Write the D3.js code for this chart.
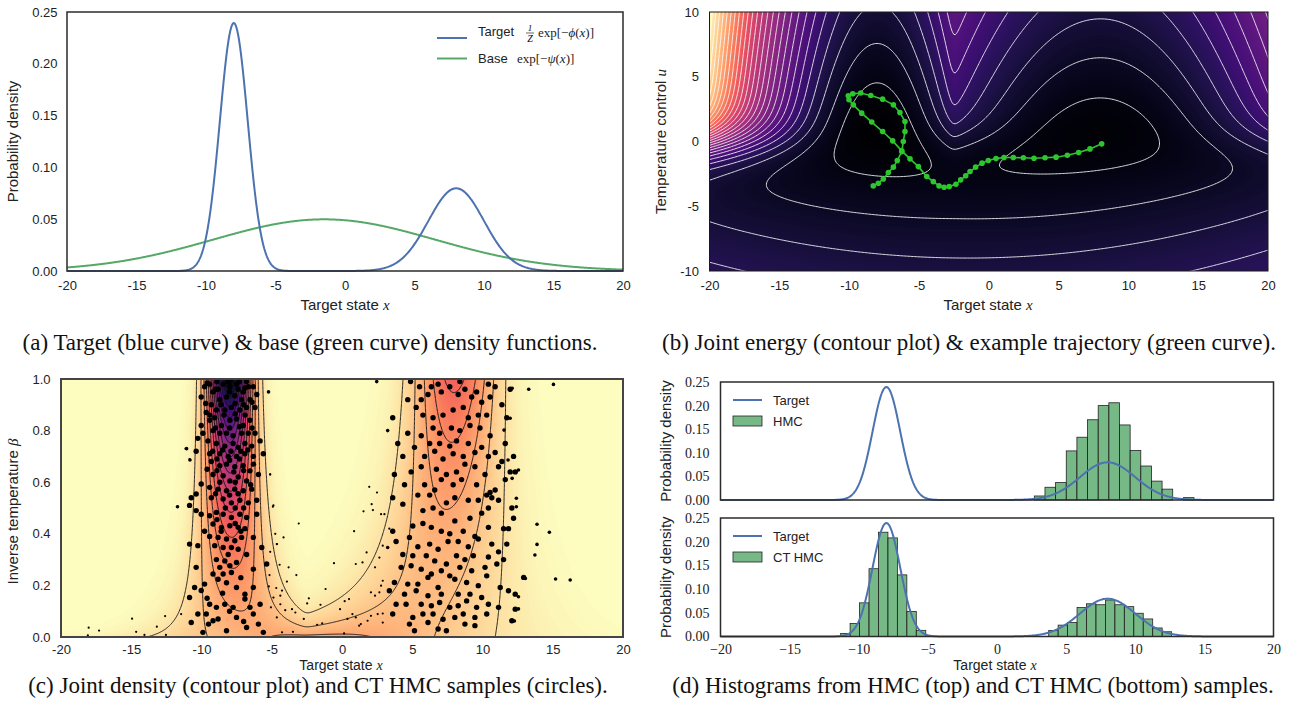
<!DOCTYPE html>
<html>
<head>
<meta charset="utf-8">
<script src="https://cdn.jsdelivr.net/npm/d3@7"></script>
<style>
  body { margin: 0; background: #fff; }
  .tick-sans { font-family: "Liberation Sans Narrow", "Liberation Sans", Arial, sans-serif; font-size: 13px; fill: #222; }
  .tick-serif { font-family: "Liberation Serif", "Times New Roman", serif; font-size: 14px; fill: #222; }
  .label { font-family: "Liberation Sans", Arial, sans-serif; font-size: 15px; fill: #222; }
  .label-sm { font-family: "Liberation Sans", Arial, sans-serif; font-size: 14px; fill: #222; }
  .math { font-family: "Liberation Serif", "Times New Roman", serif; font-style: italic; }
  .caption { font-family: "Liberation Serif", "Times New Roman", serif; font-size: 23px; fill: #111; }
  .legend { font-family: "Liberation Sans", Arial, sans-serif; font-size: 13px; fill: #222; }
</style>
</head>
<body>
<svg id="fig" width="1293" height="722"></svg>
<script>
// ---- values ----
var xTicks = [-20, -15, -10, -5, 0, 5, 10, 15, 20];
var densityTicks = [0, 0.05, 0.10, 0.15, 0.20, 0.25];
var uTicks = [-10, -5, 0, 5, 10];
var betaTicks = [0, 0.2, 0.4, 0.6, 0.8, 1.0];

// target = mixture of two gaussians (mode, width, weight), base = one wide gaussian
var targetMeans = [-8, 8];
var targetSds = [1, 2];
var targetWeights = [0.6, 0.4];
var baseMean = [-1.5];
var baseSd = [8];

// contour levels
var energyLevels = [6, 9, 12, 15, 18, 21, 24, 27, 30, 33, 36, 39, 42, 45, 48, 51, 54, 57, 60, 63, 66, 69, 72, 75, 78, 81];
var densityLevels = [0.015, 0.03, 0.045, 0.06, 0.075, 0.09, 0.105, 0.12, 0.135, 0.15, 0.165, 0.18, 0.195, 0.21, 0.225];

// example trajectory in (x, u)
var trajX = [8.09, 7.25, 6.44, 5.63, 4.82, 4.03, 3.24, 2.48, 1.76, 1.09, 0.52, -0.03, -0.48, -0.94, -1.34, -1.65, -2.01, -2.35, -2.83, -3.2, -3.56, -3.97, -4.44, -5.04, -5.64, -6.23, -6.88, -7.6, -8.38, -9.1, -9.7, -10.01, -10.06, -9.74, -9.17, -8.45, -7.6, -6.83, -6.36, -6.0, -6.0, -6.12, -6.23, -6.55, -6.83, -7.19, -7.55, -7.91, -8.27];
var trajU = [-0.18, -0.57, -0.85, -1.06, -1.21, -1.26, -1.29, -1.26, -1.24, -1.24, -1.32, -1.47, -1.67, -1.98, -2.32, -2.65, -2.96, -3.3, -3.48, -3.53, -3.43, -3.1, -2.71, -1.94, -1.34, -0.72, 0.05, 0.77, 1.5, 2.19, 2.83, 3.22, 3.53, 3.68, 3.74, 3.55, 3.27, 2.83, 2.24, 1.54, 0.77, 0.0, -0.78, -1.47, -1.98, -2.4, -2.89, -3.22, -3.43];

// CT HMC samples in (x, beta)
var leftSamples = [[-10.02,0.93],[-9.78,0.97],[-9.42,0.98],[-9.18,0.95],[-8.82,0.96],[-8.46,0.98],[-7.98,0.97],[-7.51,0.98],[-7.03,0.95],[-6.67,0.97],[-6.31,0.97],[-6.07,0.94],[-9.3,0.90],[-8.7,0.92],[-8.22,0.93],[-7.63,0.935],[-7.15,0.92],[-6.55,0.92],[-8.94,0.88],[-8.34,0.88],[-7.87,0.89],[-7.27,0.88],[-6.79,0.89],[-6.19,0.89],[-9.66,0.87],[-10.02,0.82],[-10.26,0.77],[-9.42,0.84],[-9.06,0.85],[-8.58,0.82],[-7.98,0.84],[-7.51,0.845],[-7.03,0.82],[-6.55,0.84],[-9.18,0.80],[-8.7,0.79],[-8.22,0.79],[-7.75,0.78],[-7.15,0.79],[-6.67,0.79],[-6.19,0.79],[-9.54,0.76],[-8.94,0.75],[-8.34,0.74],[-7.75,0.75],[-7.39,0.735],[-6.91,0.75],[-6.43,0.74],[-5.83,0.76],[-10.38,0.72],[-9.42,0.71],[-8.7,0.71],[-8.1,0.70],[-7.51,0.70],[-6.91,0.71],[-6.31,0.70],[-5.6,0.71],[-9.3,0.68],[-8.7,0.664],[-8.22,0.67],[-7.63,0.66],[-7.03,0.664],[-6.55,0.644],[-5.95,0.63],[-9.18,0.63],[-8.46,0.625],[-7.98,0.605],[-7.39,0.62],[-6.79,0.605],[-10.02,0.593],[-9.42,0.58],[-8.82,0.573],[-8.22,0.567],[-7.63,0.573],[-7.03,0.567],[-6.43,0.573],[-9.3,0.54],[-8.46,0.535],[-7.87,0.52],[-7.27,0.53],[-6.67,0.52],[-6.07,0.53],[-10.38,0.554],[-10.73,0.54],[-10.85,0.51],[-10.38,0.49],[-10.02,0.476],[-9.42,0.47],[-8.94,0.483],[-8.46,0.476],[-7.87,0.463],[-7.27,0.476],[-6.79,0.463],[-6.07,0.476],[-9.18,0.438],[-8.58,0.425],[-7.98,0.431],[-7.39,0.425],[-6.91,0.42],[-9.78,0.41],[-9.42,0.39],[-8.82,0.386],[-8.22,0.38],[-7.63,0.373],[-7.15,0.386],[-6.31,0.386],[-10.26,0.354],[-9.06,0.354],[-8.46,0.347],[-7.87,0.347],[-7.39,0.34],[-6.79,0.32],[-5.71,0.347],[-10.85,0.36],[-8.94,0.30],[-8.34,0.295],[-7.98,0.276],[-7.51,0.289],[-10.38,0.27],[-9.18,0.244],[-8.46,0.244],[-7.87,0.25],[-6.31,0.263],[-5.36,0.283],[-9.78,0.205],[-8.82,0.224],[-8.22,0.21],[-7.51,0.192],[-6.91,0.166],[-6.31,0.192],[-10.49,0.192],[-10.02,0.18],[-10.85,0.153],[-9.42,0.127],[-8.94,0.115],[-8.34,0.127],[-7.75,0.115],[-6.91,0.147],[-6.55,0.115],[-5.83,0.127],[-10.26,0.089],[-10.73,0.056],[-9.66,0.089],[-9.18,0.063],[-8.82,0.07],[-8.22,0.024],[-7.51,0.076],[-6.79,0.037],[-6.31,0.089],[-5.95,0.05],[-5.6,0.018],[-9.9,0.018],
  [-9.6,0.985],[-8.9,0.99],[-8.1,0.99],[-7.3,0.99],[-6.8,0.99],[-9.0,0.96],[-8.0,0.95],[-7.4,0.96],[-6.9,0.965],[-9.7,0.905],[-8.6,0.90],[-7.6,0.905],[-7.0,0.9],[-6.4,0.91],[-9.4,0.86],[-8.4,0.86],[-7.6,0.865],[-6.9,0.86],[-9.0,0.81],[-8.0,0.81],[-7.3,0.815],[-6.4,0.81],[-9.9,0.79],[-9.2,0.72],[-8.5,0.725],[-7.9,0.72],[-7.2,0.72],[-6.7,0.725],[-8.9,0.69],[-8.0,0.685],[-7.3,0.69],[-6.3,0.67],[-9.6,0.65],[-8.9,0.645],[-7.7,0.64],[-7.0,0.645],[-8.7,0.60],[-7.6,0.60],[-6.5,0.59],[-9.0,0.555],[-8.0,0.55],[-7.4,0.555],[-8.3,0.50],[-7.6,0.50],[-7.0,0.50],[-8.9,0.455],[-7.6,0.44],[-8.6,0.41],[-7.2,0.41],[-8.1,0.32],[-8.7,0.27],[-8.5,0.17],[-7.2,0.23],[-9.6,0.15],[-8.0,0.1],[-9.5,0.05],[-7.0,0.06]];

var rightSamples = [[4.88,0.99],[5.52,0.97],[6.36,0.97],[6.84,0.98],[7.67,0.97],[8.39,0.99],[8.75,0.96],[9.58,0.95],[10.42,0.98],[10.9,0.97],[11.97,0.96],[4.68,0.92],[5.64,0.92],[6.12,0.94],[7.07,0.95],[8.27,0.94],[9.23,0.93],[9.94,0.91],[10.54,0.93],[11.38,0.90],[3.61,0.85],[5.28,0.89],[5.76,0.86],[6.48,0.85],[7.19,0.86],[7.91,0.88],[8.63,0.89],[8.99,0.85],[9.7,0.86],[10.3,0.86],[11.73,0.85],[4.68,0.79],[5.64,0.78],[6.48,0.81],[6.95,0.79],[7.79,0.81],[8.39,0.80],[9.11,0.82],[9.82,0.81],[10.54,0.78],[3.97,0.75],[5.16,0.735],[6.24,0.75],[6.95,0.75],[7.67,0.74],[8.15,0.76],[8.99,0.75],[9.94,0.735],[10.9,0.715],[11.62,0.75],[4.33,0.70],[5.88,0.70],[6.6,0.72],[7.19,0.69],[7.91,0.71],[8.63,0.70],[9.46,0.715],[10.42,0.70],[11.38,0.68],[12.21,0.70],[3.73,0.63],[4.92,0.64],[5.64,0.66],[6.72,0.65],[7.43,0.63],[8.15,0.64],[8.75,0.67],[9.46,0.66],[10.18,0.63],[11.14,0.66],[11.97,0.64],[12.33,0.64],[4.45,0.59],[5.88,0.59],[6.6,0.57],[7.07,0.61],[7.91,0.59],[8.51,0.61],[9.58,0.59],[10.54,0.56],[10.9,0.57],[11.62,0.61],[3.61,0.54],[5.4,0.55],[6.24,0.55],[7.43,0.52],[8.03,0.54],[8.99,0.53],[9.7,0.53],[10.3,0.55],[10.66,0.54],[11.14,0.53],[12.09,0.50],[4.33,0.515],[5.76,0.49],[6.48,0.50],[7.07,0.48],[8.03,0.45],[9.11,0.46],[9.94,0.48],[10.42,0.50],[11.5,0.42],[12.21,0.46],[3.61,0.41],[5.04,0.43],[5.76,0.44],[6.36,0.425],[7.07,0.41],[7.67,0.40],[8.63,0.41],[9.46,0.39],[10.42,0.425],[11.85,0.42],[3.85,0.37],[4.8,0.386],[5.4,0.35],[6.24,0.36],[6.84,0.34],[7.55,0.37],[8.27,0.37],[8.99,0.35],[9.7,0.38],[10.66,0.36],[11.14,0.33],[11.73,0.36],[4.33,0.32],[5.04,0.315],[6.0,0.315],[6.6,0.295],[7.43,0.283],[8.15,0.315],[8.75,0.30],[9.35,0.315],[10.42,0.31],[11.5,0.30],[4.21,0.27],[4.92,0.276],[5.64,0.263],[6.36,0.244],[7.07,0.257],[7.67,0.237],[8.39,0.27],[9.23,0.257],[10.18,0.27],[11.02,0.283],[12.93,0.231],[3.73,0.211],[4.68,0.205],[5.4,0.205],[6.12,0.231],[6.84,0.192],[8.03,0.224],[8.87,0.211],[9.7,0.199],[10.3,0.237],[11.26,0.192],[11.85,0.179],[3.37,0.179],[4.45,0.166],[5.28,0.179],[6.12,0.16],[7.07,0.166],[8.27,0.166],[9.11,0.166],[9.94,0.153],[12.33,0.166],[3.85,0.127],[4.56,0.127],[5.64,0.127],[6.36,0.121],[6.95,0.134],[7.67,0.115],[8.27,0.121],[8.87,0.14],[9.58,0.115],[10.42,0.127],[11.14,0.115],[12.33,0.108],[3.61,0.089],[5.04,0.076],[5.76,0.089],[6.48,0.089],[7.19,0.069],[8.03,0.076],[8.63,0.089],[9.46,0.076],[10.3,0.089],[12.09,0.063],[4.8,0.05],[6.12,0.056],[6.84,0.031],[7.43,0.024],[8.75,0.05],[9.46,0.044],[5.16,0.024]];

var fringeSamples = [[-5.23,0.95],[2.47,0.99],[3.25,0.80],[3.25,0.347],[12.11,0.964],[13.29,0.96],[15.05,0.979],[13.88,0.437],[14.76,0.406],[13.88,0.359],[13.73,0.318],[15.2,0.225],[16.24,0.221],[13.05,0.227],[12.56,0.156],[12.56,0.109],[12.27,0.062],[12.56,0.647],[12.41,0.538],[12.41,0.505],[12.11,0.615],[11.97,0.848],[11.82,0.686],[11.53,0.802],[-11.06,0.73],[-10.82,0.686],[-11.71,0.505]];

var sparseSamples = [[-5.11,0.63],[-4.92,0.505],[-3.08,0.44],[-4.16,0.386],[-4.75,0.40],[-4.63,0.36],[-5.11,0.33],[-4.44,0.28],[-3.8,0.27],[-3.25,0.24],[-3.92,0.215],[-5.16,0.24],[-5.21,0.196],[-4.68,0.19],[-4.27,0.18],[-4.39,0.16],[-5.06,0.115],[-4.39,0.127],[-4.04,0.104],[-3.56,0.108],[-3.32,0.095],[-2.72,0.07],[-2.36,0.15],[-2.48,0.13],[-1.17,0.186],[-1.53,0.125],[-0.57,0.286],[-1.77,0.047],[-1.41,0.053],[-0.14,0.108],[0.19,0.139],[0.5,0.147],[0.39,0.07],[0.74,0.089],[0.98,0.076],[1.34,0.05],[1.82,0.063],[2.06,0.082],[2.54,0.089],[2.9,0.091],[2.9,0.056],[1.22,0.044],[0.15,0.014],[-3.49,0.02],[-4.27,0.018],[0.98,0.283],[1.46,0.289],[1.75,0.328],[2.35,0.27],[2.66,0.308],[2.78,0.199],[2.9,0.218],[2.66,0.173],[2.35,0.16],[2.06,0.173],[0.86,0.41],[1.53,0.487],[1.94,0.582],[2.11,0.515],[2.2,0.492],[2.49,0.56],[2.78,0.476],[3.02,0.476],[3.37,0.42],[2.9,0.354],[-18.03,0.036],[-17.29,0.025],[-18.09,0.006],[-14.94,0.071],[-14.65,0.02],[-14.06,0.008],[-12.59,0.081],[-13.18,0.04],[-12.53,0.008],[-11.14,0.73],[-10.85,0.69],[-11.69,0.505],[-11.45,0.089],[-5.12,0.63],[-4.88,0.51],[-4.64,0.36],[-4.88,0.153],[-4.64,0.076]];

// histograms: first bin edge, bin width, bar heights
var hmcBinStart = 2.70, hmcBinWidth = 0.77;
var hmcHeights = [0.0085, 0.027, 0.037, 0.104, 0.133, 0.170, 0.200, 0.206, 0.159, 0.105, 0.072, 0.040, 0.023, 0, 0.005];
var ctBinStart = -11.31, ctBinWidth = 0.684;
var ctHeights = [0.0064, 0.0275, 0.071, 0.143, 0.220, 0.208, 0.130, 0.053, 0.013,
  0, 0, 0, 0, 0, 0, 0, 0, 0, 0, 0, 0, 0,
  0.0127, 0.024, 0.0297, 0.061, 0.069, 0.067, 0.077, 0.067, 0.063, 0.049, 0.037, 0.018, 0.010];

var blue = "#4c72b0", green = "#55a868", trajGreen = "#2dc62d";

var svg = d3.select("#fig");
var defs = svg.append("defs");

// densities and energies
function normal(x, m, s) {
  return Math.exp(-0.5 * ((x - m) / s) * ((x - m) / s)) / (s * Math.sqrt(2 * Math.PI));
}
function target(x) {
  return d3.sum(targetMeans, function(m, i) { return targetWeights[i] * normal(x, m, targetSds[i]); });
}
function base(x) { return normal(x, baseMean[0], baseSd[0]); }
function phi(x) { return -Math.log(target(x)); }
function psi(x) { return -Math.log(base(x)); }
function softplus(v) { return Math.max(v, 0) + Math.log(1 + Math.exp(-Math.abs(v))); }

function jointEnergy(x, u) {
  var b = 1 / (1 + Math.exp(-u));
  return b * phi(x) + (1 - b) * psi(x) + softplus(u) + softplus(-u);
}
function jointDensity(x, beta) {
  var b = Math.max(0, Math.min(1, beta));
  return Math.exp(-b * phi(x) - (1 - b) * psi(x));
}

// panel boxes (pixels)
var pa = { x0: 67, x1: 623, y0: 12, y1: 271, id: "a" };
var pb = { x0: 709.5, x1: 1268, y0: 12, y1: 271, id: "b" };
var pc = { x0: 61, x1: 623, y0: 379, y1: 637, id: "c" };
var pd1 = { x0: 720.5, x1: 1273.5, y0: 382, y1: 500, id: "d1" };
var pd2 = { x0: 720.5, x1: 1273.5, y0: 518, y1: 636.5, id: "d2" };

function scales(p, xd, yd) {
  return {
    x: d3.scaleLinear().domain(xd).range([p.x0, p.x1]),
    y: d3.scaleLinear().domain(yd).range([p.y1, p.y0])
  };
}

function clipFor(p) {
  defs.append("clipPath").attr("id", "clip-" + p.id)
    .append("rect").attr("x", p.x0).attr("y", p.y0)
    .attr("width", p.x1 - p.x0).attr("height", p.y1 - p.y0);
  return "url(#clip-" + p.id + ")";
}

function frame(p, color, w) {
  svg.append("rect").attr("x", p.x0).attr("y", p.y0)
    .attr("width", p.x1 - p.x0).attr("height", p.y1 - p.y0)
    .attr("fill", "none").attr("stroke", color).attr("stroke-width", w);
}

function plainFmt(d) { return String(d); }

function xAxis(p, sc, ticks, fmt, pad, cls) {
  svg.append("g").attr("transform", "translate(0," + p.y1 + ")")
    .call(d3.axisBottom(sc.x).tickValues(ticks).tickSize(0).tickPadding(pad).tickFormat(fmt))
    .call(function(g) { g.select(".domain").remove(); })
    .selectAll("text").attr("class", cls);
}
function yAxis(p, sc, ticks, fmt, pad, cls) {
  svg.append("g").attr("transform", "translate(" + p.x0 + ",0)")
    .call(d3.axisLeft(sc.y).tickValues(ticks).tickSize(0).tickPadding(pad).tickFormat(fmt))
    .call(function(g) { g.select(".domain").remove(); })
    .selectAll("text").attr("class", cls);
}

// x label "Target state x"
function xLabel(cx, y, cls) {
  var t = svg.append("text").attr("class", cls || "label").attr("x", cx).attr("y", y).attr("text-anchor", "middle");
  t.append("tspan").text("Target state ");
  t.append("tspan").attr("class", "math").text("x");
}
function yLabel(x, cy, txt, mathTxt) {
  var t = svg.append("text").attr("class", "label")
    .attr("transform", "translate(" + x + "," + cy + ") rotate(-90)")
    .attr("text-anchor", "middle");
  t.append("tspan").text(txt);
  if (mathTxt) t.append("tspan").attr("class", "math").text(mathTxt);
}

// raster heat map from a field
function heatImage(p, sc, fn, color, clip) {
  var w = Math.round(p.x1 - p.x0), h = Math.round(p.y1 - p.y0);
  var canvas = document.createElement("canvas");
  canvas.width = w; canvas.height = h;
  var ctx = canvas.getContext("2d");
  var img = ctx.createImageData(w, h);
  for (var j = 0; j < h; j++) {
    var yv = sc.y.invert(p.y0 + j + 0.5);
    for (var i = 0; i < w; i++) {
      var c = d3.rgb(color(fn(sc.x.invert(p.x0 + i + 0.5), yv)));
      var k = 4 * (j * w + i);
      img.data[k] = c.r; img.data[k + 1] = c.g; img.data[k + 2] = c.b; img.data[k + 3] = 255;
    }
  }
  ctx.putImageData(img, 0, 0);
  svg.append("image").attr("x", p.x0).attr("y", p.y0)
    .attr("width", w).attr("height", h)
    .attr("preserveAspectRatio", "none")
    .attr("clip-path", clip)
    .attr("href", canvas.toDataURL());
}

// contour lines over a grid a bit larger than the plot, clipped
function contourLines(sc, fn, xr, yr, nx, ny, levels, stroke, width, opacity, clip) {
  var dx = (xr[1] - xr[0]) / (nx - 1), dy = (yr[1] - yr[0]) / (ny - 1);
  var values = new Float64Array(nx * ny);
  for (var j = 0; j < ny; j++)
    for (var i = 0; i < nx; i++)
      values[j * nx + i] = fn(xr[0] + i * dx, yr[0] + j * dy);
  var cs = d3.contours().size([nx, ny]).thresholds(levels)(values);
  var path = d3.geoPath();
  svg.append("g").attr("clip-path", clip)
    .selectAll("path")
    .data(cs)
    .join("path")
      .attr("d", function(c) {
        return path({
          type: "MultiPolygon",
          coordinates: c.coordinates.map(function(poly) {
            return poly.map(function(ring) {
              return ring.map(function(pt) {
                return [sc.x(xr[0] + (pt[0] - 0.5) * dx), sc.y(yr[0] + (pt[1] - 0.5) * dy)];
              });
            });
          })
        });
      })
      .attr("fill", "none")
      .attr("stroke", stroke)
      .attr("stroke-width", width)
      .attr("stroke-opacity", opacity);
}

var curveXs = d3.range(-20, 20.001, 0.05);

// ---------- (a) ----------
var sa = scales(pa, [-20, 20], [0, 0.25]);
var lineA = d3.line().x(function(d) { return sa.x(d[0]); }).y(function(d) { return sa.y(d[1]); });
svg.append("path").datum(curveXs.map(function(x) { return [x, base(x)]; }))
  .attr("d", lineA).attr("fill", "none").attr("stroke", green).attr("stroke-width", 2);
svg.append("path").datum(curveXs.map(function(x) { return [x, target(x)]; }))
  .attr("d", lineA).attr("fill", "none").attr("stroke", blue).attr("stroke-width", 2);
frame(pa, "#2b2b2b", 1.5);
xAxis(pa, sa, xTicks, plainFmt, 10, "tick-sans");
yAxis(pa, sa, densityTicks, d3.format(".2f"), 9.5, "tick-sans");
xLabel(345, 310);
yLabel(18, 141.5, "Probability density");

// legend (a)
svg.append("line").attr("x1", 437).attr("x2", 467).attr("y1", 38).attr("y2", 38).attr("stroke", blue).attr("stroke-width", 2);
svg.append("text").attr("class", "legend").attr("x", 478).attr("y", 36).text("Target");
svg.append("text").attr("class", "math").attr("font-style", "normal").attr("font-size", 9).attr("x", 530).attr("y", 30.5).attr("text-anchor", "middle").text("1");
svg.append("line").attr("x1", 526).attr("x2", 534).attr("y1", 33).attr("y2", 33).attr("stroke", "#222").attr("stroke-width", 0.7);
svg.append("text").attr("class", "math").attr("font-size", 10).attr("x", 530).attr("y", 41.5).attr("text-anchor", "middle").text("Z");
var ta = svg.append("text").attr("x", 538).attr("y", 37).attr("font-family", "Liberation Serif, serif").attr("font-size", 13).attr("fill", "#222");
ta.append("tspan").text("exp[\u2212");
ta.append("tspan").attr("font-style", "italic").text("\u03d5");
ta.append("tspan").text("(");
ta.append("tspan").attr("font-style", "italic").text("x");
ta.append("tspan").text(")]");
svg.append("line").attr("x1", 437).attr("x2", 467).attr("y1", 58.5).attr("y2", 58.5).attr("stroke", green).attr("stroke-width", 2);
svg.append("text").attr("class", "legend").attr("x", 478).attr("y", 63).text("Base");
var tb = svg.append("text").attr("x", 517).attr("y", 63).attr("font-family", "Liberation Serif, serif").attr("font-size", 13).attr("fill", "#222");
tb.append("tspan").text("exp[\u2212");
tb.append("tspan").attr("font-style", "italic").text("\u03c8");
tb.append("tspan").text("(");
tb.append("tspan").attr("font-style", "italic").text("x");
tb.append("tspan").text(")]");

// ---------- (b) ----------
var sb = scales(pb, [-20, 20], [-10, 10]);
var clipB = clipFor(pb);
var eMin = Infinity, eMax = -Infinity;
for (var gx = -20; gx <= 20; gx += 0.1) {
  for (var gu = -10; gu <= 10; gu += 0.1) {
    var e = jointEnergy(gx, gu);
    if (e < eMin) eMin = e;
    if (e > eMax) eMax = e;
  }
}
var energyColor = d3.scaleSequential(d3.interpolateMagma).domain([eMin, eMax]);
heatImage(pb, sb, jointEnergy, energyColor, clipB);
contourLines(sb, jointEnergy, [-21, 21], [-11, 11], 421, 221, energyLevels, "#ffffff", 1, 0.85, clipB);

var traj = trajX.map(function(x, i) { return [x, trajU[i]]; });
svg.append("path").datum(traj)
  .attr("d", d3.line().x(function(d) { return sb.x(d[0]); }).y(function(d) { return sb.y(d[1]); }))
  .attr("fill", "none").attr("stroke", trajGreen).attr("stroke-width", 1.6);
svg.append("g").selectAll("circle").data(traj).join("circle")
  .attr("cx", function(d) { return sb.x(d[0]); })
  .attr("cy", function(d) { return sb.y(d[1]); })
  .attr("r", 2.8).attr("fill", trajGreen);
frame(pb, "#1a1a1a", 1);
xAxis(pb, sb, xTicks, plainFmt, 10, "tick-sans");
yAxis(pb, sb, uTicks, plainFmt, 10.5, "tick-sans");
xLabel(988, 310);
yLabel(666, 141.5, "Temperature control ", "u");

// ---------- (c) ----------
var scc = scales(pc, [-20, 20], [0, 1]);
var clipC = clipFor(pc);
var dMax = 0;
for (var hx = -20; hx <= 20; hx += 0.02) dMax = Math.max(dMax, jointDensity(hx, 1));
var densColor = d3.scaleSequential(function(t) { return d3.interpolateMagma(1 - t); }).domain([0, dMax]);
heatImage(pc, scc, jointDensity, densColor, clipC);
contourLines(scc, jointDensity, [-21, 21], [-0.05, 1.05], 841, 221, densityLevels, "#111", 0.9, 1, clipC);

function dots(data, r) {
  svg.append("g").attr("clip-path", clipC).selectAll("circle").data(data).join("circle")
    .attr("cx", function(d) { return scc.x(d[0]); })
    .attr("cy", function(d) { return scc.y(d[1]); })
    .attr("r", r).attr("fill", "#000");
}
dots(sparseSamples, 1.1);
dots(fringeSamples, 1.8);
dots(leftSamples, 2.7);
dots(rightSamples, 2.7);
frame(pc, "#444", 2);
xAxis(pc, scc, xTicks, plainFmt, 7.8, "tick-sans");
yAxis(pc, scc, betaTicks, d3.format(".1f"), 10.5, "tick-sans");
xLabel(341, 670, "label-sm");
yLabel(18, 511.5, "Inverse temperature ", "\u03b2");

// ---------- (d) ----------
function histPanel(p, binStart, binWidth, heights, legendName, showX) {
  var s = scales(p, [-20, 20], [0, 0.25]);
  var bars = heights.map(function(h, i) { return { x: binStart + i * binWidth, h: h }; })
    .filter(function(d) { return d.h > 0; });
  svg.append("g").selectAll("rect").data(bars).join("rect")
    .attr("x", function(d) { return s.x(d.x); })
    .attr("y", function(d) { return s.y(d.h); })
    .attr("width", s.x(binWidth) - s.x(0))
    .attr("height", function(d) { return s.y(0) - s.y(d.h); })
    .attr("fill", green).attr("fill-opacity", 0.8)
    .attr("stroke", "#222").attr("stroke-width", 0.8);
  svg.append("path").datum(curveXs.map(function(x) { return [x, target(x)]; }))
    .attr("d", d3.line().x(function(d) { return s.x(d[0]); }).y(function(d) { return s.y(d[1]); }))
    .attr("fill", "none").attr("stroke", blue).attr("stroke-width", 2);
  frame(p, "#2b2b2b", 1.5);
  if (showX) xAxis(p, s, xTicks, d3.format("d"), 7.5, "tick-serif");
  yAxis(p, s, densityTicks, d3.format(".2f"), 11, "tick-serif");
  yLabel(671, (p.y0 + p.y1) / 2, "Probability density");

  // legend
  var ly = p.y0 + 18;
  svg.append("line").attr("x1", 733).attr("x2", 762).attr("y1", ly).attr("y2", ly).attr("stroke", blue).attr("stroke-width", 2);
  svg.append("text").attr("class", "legend").attr("font-size", 14).attr("x", 773).attr("y", ly + 5).text("Target");
  svg.append("rect").attr("x", 733).attr("y", ly + 16).attr("width", 29).attr("height", 10)
    .attr("fill", green).attr("fill-opacity", 0.8).attr("stroke", "#222").attr("stroke-width", 0.8);
  svg.append("text").attr("class", "legend").attr("font-size", 14).attr("x", 773).attr("y", ly + 26).text(legendName);
}
histPanel(pd1, hmcBinStart, hmcBinWidth, hmcHeights, "HMC", false);
histPanel(pd2, ctBinStart, ctBinWidth, ctHeights, "CT HMC", true);
xLabel(995, 670, "label-sm");

// ---------- captions ----------
var captions = [
  { x: 310, y: 350, t: "(a) Target (blue curve) & base (green curve) density functions." },
  { x: 969, y: 350, t: "(b) Joint energy (contour plot) & example trajectory (green curve)." },
  { x: 318, y: 693, t: "(c) Joint density (contour plot) and CT HMC samples (circles)." },
  { x: 973, y: 693, t: "(d) Histograms from HMC (top) and CT HMC (bottom) samples." }
];
svg.append("g").selectAll("text").data(captions).join("text")
  .attr("class", "caption")
  .attr("x", function(d) { return d.x; })
  .attr("y", function(d) { return d.y; })
  .attr("text-anchor", "middle")
  .text(function(d) { return d.t; });
</script>
</body>
</html>
